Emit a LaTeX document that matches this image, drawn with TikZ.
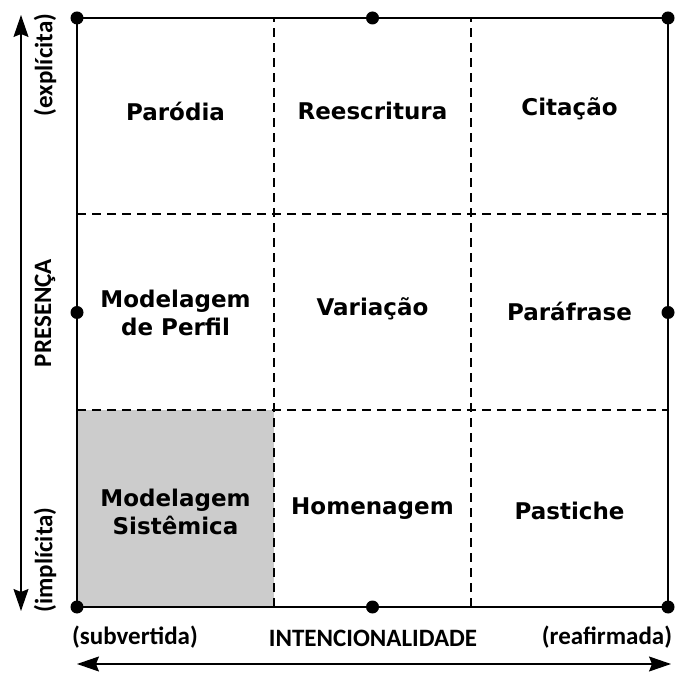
\documentclass[tikz,border=0pt]{standalone}
\usepackage{fontspec}
\setmainfont{DejaVu Sans}
\newfontfamily\axisfont{Carlito}
\usetikzlibrary{positioning,arrows.meta}

\begin{document}
\begin{tikzpicture}[x=1pt,y=1pt,
    line width=1.8pt,
    cell/.style={font=\bfseries\fontsize{23}{28}\selectfont, align=center},
    axislabel/.style={font=\axisfont\bfseries\fontsize{25}{30}\selectfont},
    dot/.style={circle, fill, inner sep=0pt, minimum size=13pt},
    sep/.style={line width=1.4pt, dash pattern=on 9pt off 6pt},
    axisarrow/.style={{Stealth[length=22pt,width=15pt,inset=3pt]}-{Stealth[length=22pt,width=15pt,inset=3pt]}}]
    \useasboundingbox (0,0) rectangle (677,672);

    % square and grid
    \coordinate (bl) at (77,65);
    \coordinate (br) at (668,65);
    \coordinate (tl) at (77,654);
    \coordinate (tr) at (668,654);
    \coordinate (x1b) at (274,65);
    \coordinate (x1t) at (274,654);
    \coordinate (x2b) at (471,65);
    \coordinate (x2t) at (471,654);
    \coordinate (y1l) at (77,458);
    \coordinate (y1r) at (668,458);
    \coordinate (y2l) at (77,262);
    \coordinate (y2r) at (668,262);

    \fill[gray!40] (bl) rectangle (274,262);
    \draw[sep] (x1b) -- (x1t);
    \draw[sep] (x2b) -- (x2t);
    \draw[sep] (y1l) -- (y1r);
    \draw[sep] (y2l) -- (y2r);
    \draw (bl) -- (br) -- (tr) -- (tl) -- cycle;

    % dots
    \node[dot] (dbl) at (bl) {};
    \node[dot] (dbm) at (372.5,65) {};
    \node[dot] (dbr) at (br) {};
    \node[dot] (dml) at (77,359.5) {};
    \node[dot] (dmr) at (668,359.5) {};
    \node[dot] (dtl) at (tl) {};
    \node[dot] (dtm) at (372.5,654) {};
    \node[dot] (dtr) at (tr) {};

    % cells
    \node[cell] (parodia) at (175.5,561) {Paródia};
    \node[cell] (reescritura) at (372.5,561) {Reescritura};
    \node[cell] (citacao) at (569.5,563) {Citação};
    \node[cell] (perfil) at (175.5,359) {Modelagem\\de Perfil};
    \node[cell] (variacao) at (372.5,363) {Variação};
    \node[cell] (parafrase) at (569.5,361) {Paráfrase};
    \node[cell] (sistemica) at (175.5,160) {Modelagem\\Sistêmica};
    \node[cell] (homenagem) at (372.5,163) {Homenagem};
    \node[cell] (pastiche) at (569.5,161) {Pastiche};

    % axes
    \coordinate (ptop) at (21,657);
    \coordinate (pbot) at (21,61);
    \coordinate (ileft) at (77,8);
    \coordinate (iright) at (671,8);
    \draw[axisarrow, line width=1.3pt] (pbot) -- (ptop);
    \draw[axisarrow, line width=1.3pt] (ileft) -- (iright);

    \node[axislabel, rotate=90] (explicita) at (45,607) {(explícita)};
    \node[axislabel, rotate=90] (presenca) at (45,359) {PRESENÇA};
    \node[axislabel, rotate=90] (implicita) at (45,112) {(implícita)};
    \node[axislabel] (subvertida) at (135,35) {(subvertida)};
    \node[axislabel] (intenc) at (373,34) {INTENCIONALIDADE};
    \node[axislabel] (reafirmada) at (607,35) {(reafirmada)};
\end{tikzpicture}
\end{document}
